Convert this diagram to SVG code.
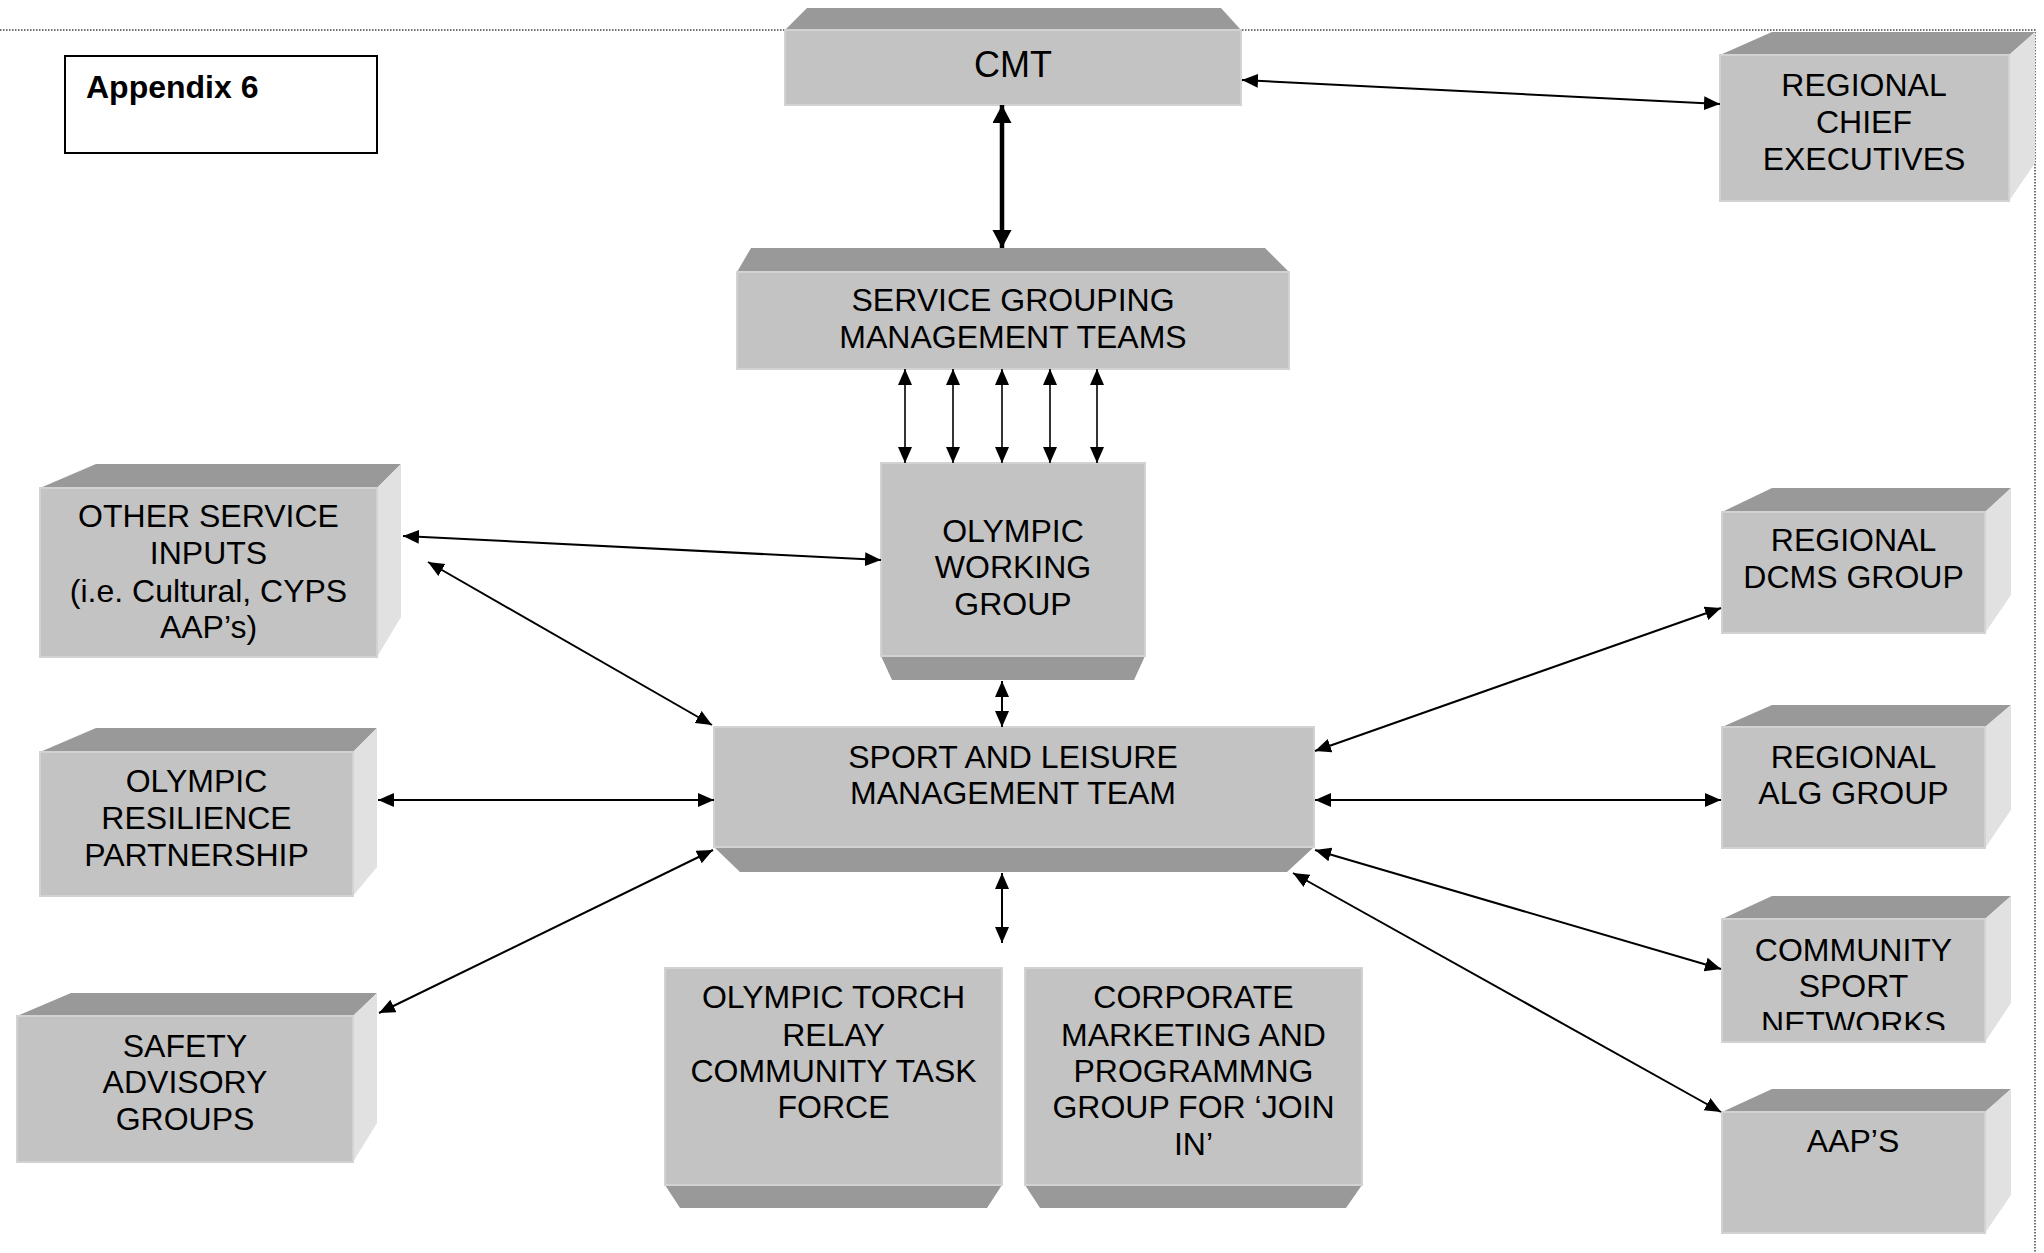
<svg xmlns="http://www.w3.org/2000/svg" width="2044" height="1253" viewBox="0 0 2044 1253">
<style>
.front{fill:#c3c3c3;stroke:#d2d2d2;stroke-width:2}
.top{fill:#999999}
.side{fill:#e1e1e1}
.lbl{font-family:"Liberation Sans",Arial,sans-serif;font-size:32px;fill:#000;text-anchor:middle}
.conn{stroke:#000;stroke-width:2;fill:none;marker-start:url(#ah);marker-end:url(#ah)}
</style>
<defs>
<marker id="ah" markerUnits="userSpaceOnUse" markerWidth="17" markerHeight="15" refX="16" refY="7" orient="auto-start-reverse"><path d="M0,0 L16,7 L0,14 z" fill="#000"/></marker>
<marker id="ahb" markerUnits="userSpaceOnUse" markerWidth="19" markerHeight="20" refX="18" refY="9.5" orient="auto-start-reverse"><path d="M0,0 L18,9.5 L0,19 z" fill="#000"/></marker>
<clipPath id="csnclip"><rect x="1722" y="919" width="263" height="111"/></clipPath>
</defs>
<rect width="2044" height="1253" fill="#fff"/>
<g id="border"><path d="M0,30 H2035 V1253" fill="none" stroke="#444" stroke-width="1.5" stroke-dasharray="1.5 1.5"/></g>

<g id="appendix">
<rect x="65" y="56" width="312" height="97" fill="#fff" stroke="#000" stroke-width="2"/>
<text x="86" y="98" style="font-family:'Liberation Sans',Arial,sans-serif;font-size:32px;font-weight:bold">Appendix 6</text>
</g>

<g id="cmt">
<polygon class="top" points="785,30 807,8 1221,8 1241,30"/>
<rect class="front" x="785" y="30" width="456" height="75"/>
<text class="lbl" x="1013" y="77" style="font-size:36px">CMT</text>
</g>

<g id="rce">
<polygon class="top" points="1720,55 1772,32 2035,32 2009,55"/>
<polygon class="side" points="2009,55 2035,32 2035,163 2009,201"/>
<rect class="front" x="1720" y="55" width="289" height="146"/>
<text class="lbl"><tspan x="1864" y="96">REGIONAL</tspan><tspan x="1864" y="133">CHIEF</tspan><tspan x="1864" y="170">EXECUTIVES</tspan></text>
</g>

<g id="sg">
<polygon class="top" points="737,272 751,248 1265,248 1289,272"/>
<rect class="front" x="737" y="272" width="552" height="97"/>
<text class="lbl"><tspan x="1013" y="311">SERVICE GROUPING</tspan><tspan x="1013" y="348">MANAGEMENT TEAMS</tspan></text>
</g>

<g id="owg">
<polygon class="top" points="881,656 1145,656 1134,680 892,680"/>
<rect class="front" x="881" y="463" width="264" height="193"/>
<text class="lbl"><tspan x="1013" y="542">OLYMPIC</tspan><tspan x="1013" y="578">WORKING</tspan><tspan x="1013" y="615">GROUP</tspan></text>
</g>

<g id="osi">
<polygon class="top" points="40,488 96,464 401,464 377,488"/>
<polygon class="side" points="377,488 401,464 401,617 377,657"/>
<rect class="front" x="40" y="488" width="337" height="169"/>
<text class="lbl"><tspan x="208.5" y="527">OTHER SERVICE</tspan><tspan x="208.5" y="564">INPUTS</tspan><tspan x="208.5" y="602">(i.e. Cultural, CYPS</tspan><tspan x="208.5" y="638">AAP’s)</tspan></text>
</g>

<g id="slmt">
<polygon class="top" points="714,847 1314,847 1287,872 740,872"/>
<rect class="front" x="714" y="727" width="600" height="120"/>
<text class="lbl"><tspan x="1013" y="768">SPORT AND LEISURE</tspan><tspan x="1013" y="804">MANAGEMENT TEAM</tspan></text>
</g>

<g id="orp">
<polygon class="top" points="40,752 96,728 377,728 353,752"/>
<polygon class="side" points="353,752 377,728 377,867 353,896"/>
<rect class="front" x="40" y="752" width="313" height="144"/>
<text class="lbl"><tspan x="196.5" y="792">OLYMPIC</tspan><tspan x="196.5" y="829">RESILIENCE</tspan><tspan x="196.5" y="866">PARTNERSHIP</tspan></text>
</g>

<g id="safety">
<polygon class="top" points="17,1016 71,993 377,993 353,1016"/>
<polygon class="side" points="353,1016 377,993 377,1123 353,1162"/>
<rect class="front" x="17" y="1016" width="336" height="146"/>
<text class="lbl"><tspan x="185" y="1057">SAFETY</tspan><tspan x="185" y="1093">ADVISORY</tspan><tspan x="185" y="1130">GROUPS</tspan></text>
</g>

<g id="torch">
<polygon class="top" points="665,1185 1002,1185 987,1208 680,1208"/>
<rect class="front" x="665" y="968" width="337" height="217"/>
<text class="lbl"><tspan x="833.5" y="1008">OLYMPIC TORCH</tspan><tspan x="833.5" y="1046">RELAY</tspan><tspan x="833.5" y="1082">COMMUNITY TASK</tspan><tspan x="833.5" y="1118">FORCE</tspan></text>
</g>

<g id="corporate">
<polygon class="top" points="1025,1185 1362,1185 1346,1208 1040,1208"/>
<rect class="front" x="1025" y="968" width="337" height="217"/>
<text class="lbl"><tspan x="1193.5" y="1008">CORPORATE</tspan><tspan x="1193.5" y="1046">MARKETING AND</tspan><tspan x="1193.5" y="1082">PROGRAMMNG</tspan><tspan x="1193.5" y="1118">GROUP FOR ‘JOIN</tspan><tspan x="1193.5" y="1155">IN’</tspan></text>
</g>

<g id="dcms">
<polygon class="top" points="1722,512 1772,488 2011,488 1985,512"/>
<polygon class="side" points="1985,512 2011,488 2011,595 1985,633"/>
<rect class="front" x="1722" y="512" width="263" height="121"/>
<text class="lbl"><tspan x="1853.5" y="551">REGIONAL</tspan><tspan x="1853.5" y="588">DCMS GROUP</tspan></text>
</g>

<g id="alg">
<polygon class="top" points="1722,727 1772,705 2011,705 1985,727"/>
<polygon class="side" points="1985,727 2011,705 2011,810 1985,848"/>
<rect class="front" x="1722" y="727" width="263" height="121"/>
<text class="lbl"><tspan x="1853.5" y="768">REGIONAL</tspan><tspan x="1853.5" y="804">ALG GROUP</tspan></text>
</g>

<g id="csn">
<polygon class="top" points="1722,919 1772,896 2011,896 1985,919"/>
<polygon class="side" points="1985,919 2011,896 2011,1003 1985,1042"/>
<rect class="front" x="1722" y="919" width="263" height="123"/>
<text class="lbl" clip-path="url(#csnclip)"><tspan x="1853.5" y="961">COMMUNITY</tspan><tspan x="1853.5" y="997">SPORT</tspan><tspan x="1853.5" y="1034">NETWORKS</tspan></text>
</g>

<g id="aaps">
<polygon class="top" points="1722,1112 1772,1089 2011,1089 1985,1112"/>
<polygon class="side" points="1985,1112 2011,1089 2011,1195 1985,1233"/>
<rect class="front" x="1722" y="1112" width="263" height="121"/>
<text class="lbl"><tspan x="1853" y="1152">AAP’S</tspan></text>
</g>

<g id="connectors">
<line x1="1002" y1="105" x2="1002" y2="248" stroke="#000" stroke-width="4.5" marker-start="url(#ahb)" marker-end="url(#ahb)"/>
<line class="conn" x1="1242" y1="80" x2="1720" y2="104"/>
<line class="conn" x1="905" y1="369" x2="905" y2="463" style="stroke-width:1.6"/>
<line class="conn" x1="953" y1="369" x2="953" y2="463" style="stroke-width:1.6"/>
<line class="conn" x1="1002" y1="369" x2="1002" y2="463" style="stroke-width:1.6"/>
<line class="conn" x1="1050" y1="369" x2="1050" y2="463" style="stroke-width:1.6"/>
<line class="conn" x1="1097" y1="369" x2="1097" y2="463" style="stroke-width:1.6"/>
<line class="conn" x1="403" y1="536" x2="881" y2="560"/>
<line class="conn" x1="428" y1="562" x2="712" y2="725"/>
<line class="conn" x1="378" y1="800" x2="714" y2="800"/>
<line class="conn" x1="379" y1="1013" x2="713" y2="850"/>
<line class="conn" x1="1002" y1="681" x2="1002" y2="727"/>
<line class="conn" x1="1002" y1="873" x2="1002" y2="943"/>
<line class="conn" x1="1315" y1="751" x2="1721" y2="608"/>
<line class="conn" x1="1315" y1="800" x2="1721" y2="800"/>
<line class="conn" x1="1315" y1="850" x2="1721" y2="969"/>
<line class="conn" x1="1293" y1="873" x2="1721" y2="1112"/>
</g>
</svg>
